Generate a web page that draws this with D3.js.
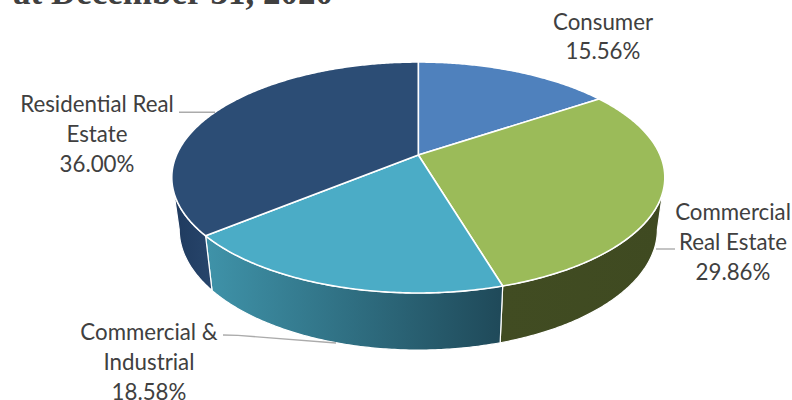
<!DOCTYPE html>
<html>
<head>
<meta charset="utf-8">
<script src="https://cdn.jsdelivr.net/npm/d3@7"></script>
<style>
  html, body { margin: 0; padding: 0; background: #fff; }
  svg { display: block; }
  text { font-family: Lato, sans-serif; font-size: 22.3px; fill: #404040; }
  .heading { font-family: "Liberation Serif", serif; font-size: 35px; font-weight: 700; fill: #404040; }
</style>
</head>
<body>
<svg id="chart" width="792" height="400"></svg>
<script>
// Loan portfolio composition
const categories = ["Consumer", "Commercial Real Estate", "Commercial & Industrial", "Residential Real Estate"];
const shares = [15.56, 29.86, 18.58, 36.00];
const labelLines = [
  ["Consumer", "15.56%"],
  ["Commercial", "Real Estate", "29.86%"],
  ["Commercial &", "Industrial", "18.58%"],
  ["Residential Real", "Estate", "36.00%"]
];
const topColors = ["#4f81bd", "#9bbb59", "#4bacc6", "#2c4d75"];
const wallStops = [
  ["#3d6797", "#3d6797"],
  ["#414c22", "#3f4a21"],
  ["#3f93a9", "#1f4959"],
  ["#1f3a5e", "#27456b"]
];
const labelAnchors = [[603, 29.5], [733, 220], [149, 340], [97, 112]];
const leaders = [
  [[656, 249], [675, 249]],
  [[223, 335], [238, 335.4], [336, 343]],
  [[179, 112.3], [215, 112.3]]
];
const heading = "at December 31, 2020";

const svg = d3.select("#chart");

// A tilted disc: the unit circle seen through a perspective divide,
// so the hub sits above the middle of the outline.
const tilt = 0.1948;
const hub = [418.3, 155];
const disc = (hubX, hubY, rx, ry) => angle => {
  const u = Math.sin(angle), v = -Math.cos(angle), w = 1 - tilt * v;
  return [hubX + rx * u / w, hubY + ry * v / w];
};
const topRim = disc(hub[0], hub[1], 241.8, 111.1);
const baseRim = disc(hub[0], 206, 234.5, 116);

const pie = d3.pie().sort(null).value(d => d).startAngle(0).endAngle(2 * Math.PI);
const arcs = pie(shares);

const sweep = (rim, a0, a1) => {
  const n = Math.max(2, Math.ceil(Math.abs(a1 - a0) / 0.01));
  return d3.range(n + 1).map(i => rim(a0 + (a1 - a0) * i / n));
};
const outline = d3.line();

const defs = svg.append("defs");
wallStops.forEach((stops, i) => {
  const g = defs.append("linearGradient").attr("id", `wall-${i}`);
  g.append("stop").attr("offset", 0).attr("stop-color", stops[0]);
  g.append("stop").attr("offset", 1).attr("stop-color", stops[1]);
});

// The wall is only visible between the two silhouette tangents.
const wallFrom = Math.acos(-tilt);
const wallTo = 2 * Math.PI - wallFrom;

svg.append("g").selectAll("path")
  .data(arcs.filter(d => d.endAngle > wallFrom && d.startAngle < wallTo))
  .join("path")
  .attr("d", d => {
    const a0 = Math.max(d.startAngle, wallFrom), a1 = Math.min(d.endAngle, wallTo);
    return outline(sweep(topRim, a0, a1).concat(sweep(baseRim, a1, a0))) + "Z";
  })
  .attr("fill", d => `url(#wall-${d.index})`)
  .attr("stroke", "#fff")
  .attr("stroke-width", 1.2)
  .attr("stroke-linejoin", "round");

svg.append("g").selectAll("path")
  .data(arcs)
  .join("path")
  .attr("d", d => outline([hub, ...sweep(topRim, d.startAngle, d.endAngle)]) + "Z")
  .attr("fill", d => topColors[d.index])
  .attr("stroke", "#fff")
  .attr("stroke-width", 1.6)
  .attr("stroke-linejoin", "round");

svg.append("g").selectAll("path")
  .data(leaders)
  .join("path")
  .attr("d", outline)
  .attr("fill", "none")
  .attr("stroke", "#ababab")
  .attr("stroke-width", 1.4);

const labels = svg.append("g").selectAll("text")
  .data(labelLines)
  .join("text")
  .attr("text-anchor", "middle")
  .attr("transform", (d, i) => `translate(${labelAnchors[i][0]},${labelAnchors[i][1]})`);
labels.selectAll("tspan")
  .data(d => d)
  .join("tspan")
  .attr("x", 0)
  .attr("dy", (d, i) => i ? 29.8 : 0)
  .text(d => d);

svg.append("text").attr("class", "heading").attr("x", 13).attr("y", 4).text(heading);
</script>
</body>
</html>
